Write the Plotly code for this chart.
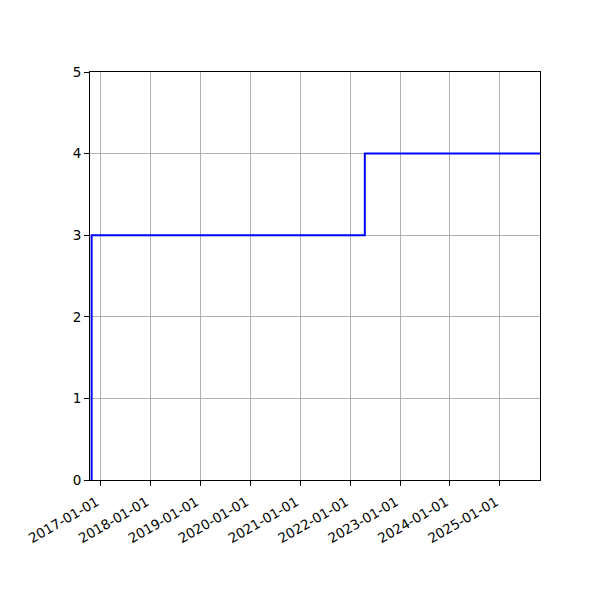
import plotly.graph_objects as go

# Step data: value changes at these dates
dates = ["2016-10-27", "2016-10-27", "2022-04-18", "2025-10-21"]
values = [0, 3, 4, 4]

tick_dates = [f"{y}-01-01" for y in range(2017, 2026)]
tick_labels = tick_dates
y_ticks = [0, 1, 2, 3, 4, 5]

x_range = ["2016-10-15", "2025-10-21"]
y_range = [0, 5]

fig = go.Figure()
fig.add_trace(go.Scatter(
    x=dates, y=values, mode="lines", line_shape="hv",
    line=dict(color="#0000ff", width=2), showlegend=False,
))

fig.update_layout(
    width=600, height=600,
    margin=dict(l=82, r=68, t=64, b=128),
    paper_bgcolor="white", plot_bgcolor="white",
    font=dict(family="DejaVu Sans", size=13.5, color="black"),
)
fig.update_xaxes(
    type="date", range=x_range,
    tickmode="array", tickvals=tick_dates, ticktext=tick_labels,
    tickangle=-30, ticklabelshift=-4, ticklabelstandoff=3,
    showgrid=True, gridcolor="#b0b0b0", gridwidth=1.1,
    showline=True, linecolor="black", linewidth=1.1, mirror=True,
    ticks="outside", ticklen=5, tickwidth=1.1, tickcolor="black",
    zeroline=False,
)
fig.update_yaxes(
    range=y_range, tickmode="array", tickvals=y_ticks,
    showgrid=True, gridcolor="#b0b0b0", gridwidth=1.1,
    showline=True, linecolor="black", linewidth=1.1, mirror=True,
    ticks="outside", ticklen=5, tickwidth=1.1, tickcolor="black",
    zeroline=False,
)

fig.write_html("out.html")
